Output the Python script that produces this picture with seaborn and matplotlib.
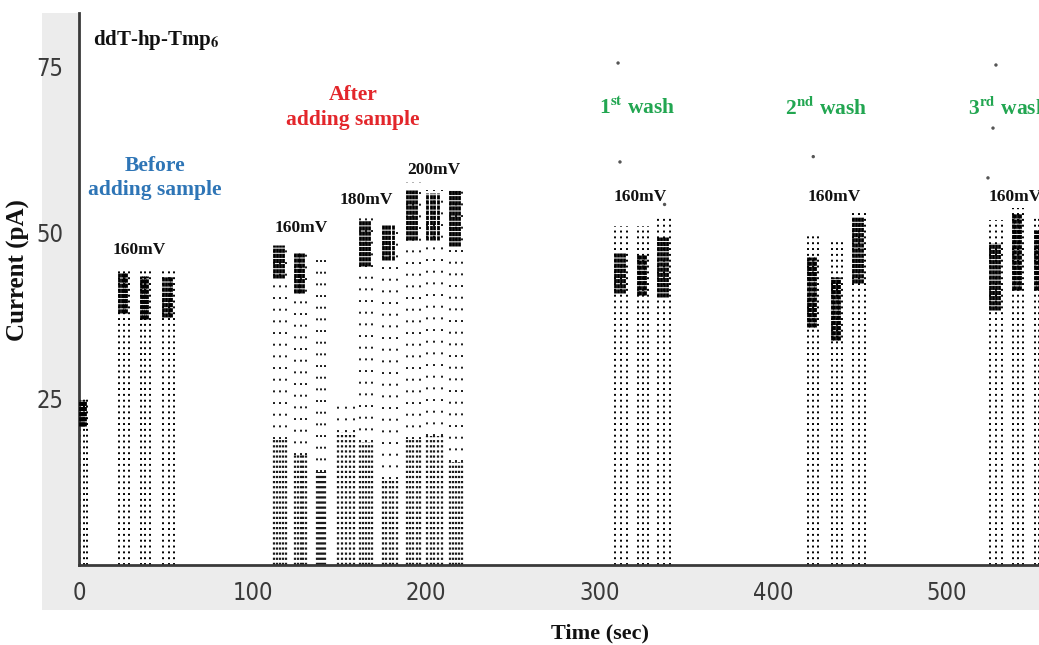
import numpy as np
import pandas as pd
import matplotlib
matplotlib.use("Agg")
import matplotlib.pyplot as plt
from matplotlib.patches import Rectangle
import seaborn as sns

# ---- burst records of the nanopore current trace -------------------------
burst_phase = ["before"] * 4 + ["after"] * 9 + ["wash"] * 9
burst_start = [0.6, 23.2, 35.5, 48.6,
               112.5, 124.5, 137.0, 149.0, 162.0, 175.0, 189.0, 200.6, 213.8,
               309.0, 322.2, 333.7, 420.2, 434.0, 446.1, 525.0, 538.3, 551.0]
burst_end = [4.6, 28.9, 40.9, 54.9,
             119.5, 131.0, 141.8, 158.5, 169.0, 183.0, 196.5, 209.0, 220.7,
             316.0, 328.0, 340.6, 426.0, 439.8, 453.0, 532.0, 544.0, 556.0]
burst_top = [25.0, 44.7, 44.7, 44.7,
             48.2, 47.0, 47.0, 24.5, 52.3, 51.2, 57.7, 56.5, 56.8,
             51.0, 51.0, 52.3, 50.0, 48.6, 53.0, 52.0, 53.8, 52.4]
band_low = [21.0, 38.0, 37.0, 37.3,
            43.2, 41.0, np.nan, np.nan, 45.0, 46.0, 49.0, 49.0, 48.0,
            41.0, 40.6, 40.4, 35.8, 33.9, 42.5, 38.4, 41.4, 41.4]
band_high = [24.8, 44.0, 43.5, 43.5,
             48.2, 47.0, np.nan, np.nan, 52.0, 51.2, 56.5, 56.0, 56.5,
             47.0, 46.7, 49.4, 46.4, 43.4, 52.4, 48.5, 53.0, 50.5]
floor_top = [0, 0, 0, 0,
             19.0, 16.5, 14.0, 20.0, 18.5, 13.0, 19.0, 19.5, 15.5,
             0, 0, 0, 0, 0, 0, 0, 0, 0]

# isolated high-current spikes
stray_time = [310.7, 311.8, 337.5, 423.2, 528.5, 526.8, 523.9]
stray_current = [75.6, 60.7, 54.3, 61.5, 75.3, 65.8, 58.3]

x_ticks = [0, 100, 200, 300, 400, 500]
y_ticks = [25, 50, 75]

bursts = pd.DataFrame({
    "phase": burst_phase, "start": burst_start, "end": burst_end,
    "top": burst_top, "band_low": band_low, "band_high": band_high,
    "floor": floor_top,
})
spikes = pd.DataFrame({"time": stray_time, "current": stray_current})

# ---- figure ---------------------------------------------------------------
sns.set_theme(style="white")
plt.rcParams["mathtext.fontset"] = "stix"

W, H = 1039, 645
fig = plt.figure(figsize=(W / 100, H / 100), dpi=100)
fig.patches.append(Rectangle((42 / W, (H - 610) / H), 1 - 42 / W, (610 - 13) / H,
                             transform=fig.transFigure, facecolor="#ececec",
                             edgecolor="none", zorder=-5))
ax = fig.add_axes([79 / W, (H - 565) / H, 1 - 79 / W, (565 - 13) / H])
ax.set_facecolor("white")
ax.set_xlim(0, (W - 79) / 1.735)
ax.set_ylim(0, (565 - 13) / 6.64)

dot = (0, (1, 2.0))
sparse = (0, (1, 5))
for _, b in bursts.iterrows():
    cols = np.linspace(b.start, b.end, 3)
    if b.phase == "after":
        # dense low-current floor: tightly packed dotted columns
        ax.vlines(np.linspace(b.start, b.end, 5), 0, b.floor, colors="k",
                  linewidth=1.6, linestyles=[(0, (1, 1.3))], zorder=2)
        ax.vlines(cols, b.floor, b.top, colors="k", linewidth=1.4,
                  linestyles=[sparse], zorder=2)
    else:
        ax.vlines(cols, 0, b.top, colors="black", linewidth=1.4,
                  linestyles=[dot], zorder=2)
    if not np.isnan(b.band_low):
        # open-pore level: dense stack of events
        band_right = b.start + 0.72 * (b.end - b.start)
        ax.vlines(np.linspace(b.start, band_right, 4), b.band_low, b.band_high,
                  colors="black", linewidth=2.0,
                  linestyles=[(0, (1.5, 0.35))], zorder=3)

sns.scatterplot(data=spikes, x="time", y="current", ax=ax, color="#555555",
                s=6, edgecolor="none", legend=False, zorder=3)

# ---- axes styling ----------------------------------------------------------
for side in ("top", "right"):
    ax.spines[side].set_visible(False)
for side in ("left", "bottom"):
    ax.spines[side].set_color("#3a3a3a")
    ax.spines[side].set_linewidth(2.0)
ax.set_xticks(x_ticks)
ax.set_yticks(y_ticks)
ax.tick_params(direction="inout", length=15, width=1.3, color="#333333",
               labelsize=17, labelcolor="#3a3a3a", pad=4)
for lab in ax.get_xticklabels() + ax.get_yticklabels():
    lab.set_family(["DejaVu Sans"])
    lab.set_stretch("condensed")
ax.set_xlabel("")
ax.set_ylabel("")

serif = ["Liberation Serif", "DejaVu Serif"]
fig.text(18 / W, (H - 270) / H, "Current (pA)", rotation=90, ha="center",
         va="center", family=serif, weight="bold", fontsize=18, color="#111111")
fig.text(600 / W, (H - 633) / H, "Time (sec)", ha="center", va="center",
         family=serif, weight="bold", fontsize=16, color="#111111")

blue, red, green = "#2e75b6", "#e3262b", "#22a651"
kw = dict(family=serif, weight="bold", clip_on=False)
ax.text(8.1, 79.1, r"ddT-hp-Tmp$_{\mathbf{6}}$", ha="left", va="center",
        fontsize=15, color="#111111", **kw)
ax.text(43.8, 58.3, "Before\nadding sample", ha="center", va="center",
        multialignment="center", linespacing=1.3, fontsize=15.5, color=blue, **kw)
ax.text(157.9, 68.9, "After\nadding sample", ha="center", va="center",
        multialignment="center", linespacing=1.3, fontsize=15.5, color=red, **kw)

volt_labels = [(34.6, 47.4, "160mV", "center"), (128.0, 50.8, "160mV", "center"),
               (165.4, 55.0, "180mV", "center"), (204.6, 59.5, "200mV", "center"),
               (323.3, 55.4, "160mV", "center"), (435.2, 55.4, "160mV", "center"),
               (524.0, 55.4, "160mV", "left")]
for x, y, s, ha in volt_labels:
    ax.text(x, y, s, ha=ha, va="center", fontsize=12.5, color="#111111", **kw)

ax.text(321.6, 68.8, r"1$^{\mathbf{st}}$ wash", ha="center", va="center",
        fontsize=15.5, color=green, **kw)
ax.text(430.5, 68.8, r"2$^{\mathbf{nd}}$ wash", ha="center", va="center",
        fontsize=15.5, color=green, **kw)
ax.text(512.4, 68.8, r"3$^{\mathbf{rd}}$ wash", ha="left", va="center",
        fontsize=15.5, color=green, **kw)

fig.savefig("out.png", dpi=100, facecolor="white")
